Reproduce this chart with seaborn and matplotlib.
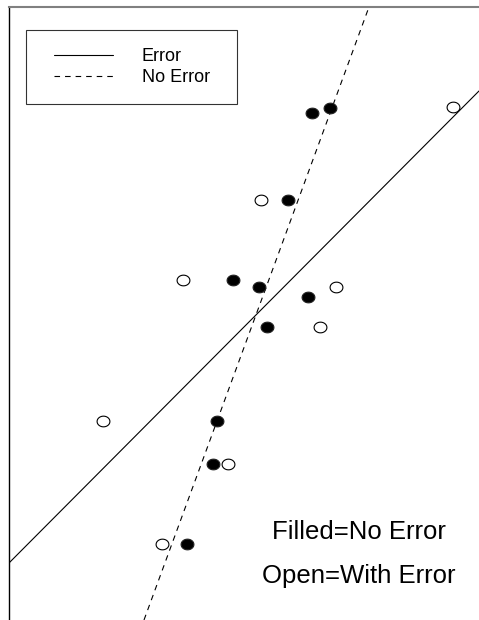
import numpy as np
import pandas as pd
import matplotlib
matplotlib.use("Agg")
import matplotlib.pyplot as plt
from matplotlib.path import Path
from matplotlib.legend_handler import HandlerLine2D
from matplotlib.lines import Line2D
import seaborn as sns

# ---- data (arbitrary units 0-100) ----
filled_x = [64.5, 68.3, 59.4, 47.7, 53.2, 63.6, 54.9, 44.3, 43.4, 37.9]
filled_y = [82.7, 83.5, 68.5, 55.5, 54.3, 52.7, 47.8, 32.5, 25.4, 12.4]
open_x = [94.5, 53.6, 37.0, 69.6, 66.2, 20.0, 46.6, 32.6]
open_y = [83.7, 68.5, 55.5, 54.3, 47.8, 32.5, 25.4, 12.4]

line_labels = ["Error", "No Error"]
line_slopes = [0.77, 2.089]
line_intercepts = [9.3, -60.0]
notes = ["Filled=No Error", "Open=With Error"]

sns.set_style("white")
plt.rcParams["font.family"] = ["Liberation Sans", "DejaVu Sans"]
plt.rcParams["text.color"] = "black"

fig = plt.figure(figsize=(4.79, 6.20), dpi=100)
ax = fig.add_axes([9 / 479, 0, 470 / 479, 613 / 620])

# elliptical marker
t = np.linspace(0, 2 * np.pi, 60)
ell = Path(np.column_stack([1.2 * np.cos(t), np.sin(t)]), closed=True)

df_f = pd.DataFrame({"x": filled_x, "y": filled_y})
df_o = pd.DataFrame({"x": open_x, "y": open_y})
sns.scatterplot(data=df_f, x="x", y="y", ax=ax, marker=ell, s=85,
                color="black", edgecolor="#222222", linewidth=0.8, zorder=3)
sns.scatterplot(data=df_o, x="x", y="y", ax=ax, marker=ell, s=85,
                color="white", edgecolor="black", linewidth=0.8, zorder=3)

ax.set_xlim(0, 100)
ax.set_ylim(0, 100)

styles = ["-", (0, (5, 4.5))]
handles = []
for lab, m, b, ls in zip(line_labels, line_slopes, line_intercepts, styles):
    ax.axline((0, b), slope=m, color="black", lw=0.8, linestyle=ls)
    handles.append(Line2D([], [], color="black", lw=0.8, linestyle=ls, label=lab))

leg = ax.legend(handles=handles, loc="upper left",
                bbox_to_anchor=(17 / 470, 590 / 613, 211 / 470, 0.0),
                mode="expand", fontsize=13, frameon=True, fancybox=False,
                borderpad=1.0, labelspacing=0.22, handlelength=3.8,
                handletextpad=1.6, borderaxespad=0,
                handler_map={Line2D: HandlerLine2D(xpad=0.55)})
leg.get_frame().set_edgecolor("black")
leg.get_frame().set_linewidth(0.8)
for txt in leg.get_texts():
    txt.set_color("black")

ax.text(0.745, 0.1436, notes[0], transform=ax.transAxes, ha="center",
        va="center", fontsize=18.5, color="black")
ax.text(0.745, 0.0718, notes[1], transform=ax.transAxes, ha="center",
        va="center", fontsize=18.5, color="black")

ax.set_xticks([])
ax.set_yticks([])
ax.set_xlabel("")
ax.set_ylabel("")
for side in ["right", "bottom"]:
    ax.spines[side].set_visible(False)
ax.spines["left"].set_color("black")
ax.spines["left"].set_linewidth(1.0)
ax.spines["top"].set_color("#808080")
ax.spines["top"].set_linewidth(1.5)

fig.savefig("out.png", dpi=100)
